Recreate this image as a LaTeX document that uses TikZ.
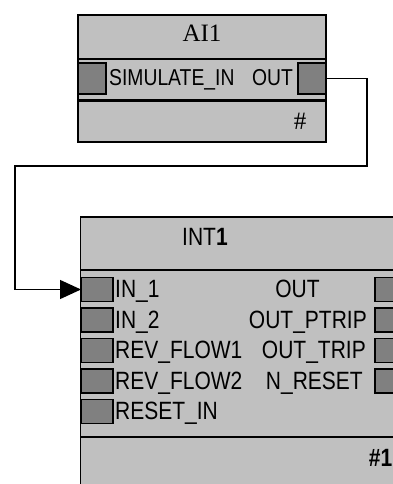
\documentclass[tikz,border=0pt]{standalone}
\usepackage{fontspec}
\setmainfont{Liberation Serif}
\newfontfamily\nsans[FakeStretch=0.84]{Liberation Sans}
\usetikzlibrary{arrows.meta}
\definecolor{boxgray}{RGB}{192,192,192}
\definecolor{portgray}{RGB}{128,128,128}
\begin{document}
\begin{tikzpicture}[x=1pt,y=-1pt,
  blk/.style={draw=black, fill=boxgray, line width=1.6pt, inner sep=0pt, outer sep=0pt, rectangle},
  sepline/.style={draw=black, line width=1.6pt},
  port/.style={draw=black, fill=portgray, line width=1.5pt, inner sep=0pt, outer sep=0pt, rectangle},
  aiport/.style={port, minimum width=28pt, minimum height=31pt},
  intport/.style={port, minimum width=32pt, minimum height=24pt},
  lbl/.style={inner sep=0pt, font=\nsans\fontsize{25}{25}\selectfont},
  albl/.style={inner sep=0pt, font=\nsans\fontsize{23}{23}\selectfont},
  ttl/.style={inner sep=0pt, font=\fontsize{25}{25}\selectfont},
  wire/.style={draw=black, line width=1.4pt}
]
\useasboundingbox (0,0) rectangle (393,484);
\clip (0,0) rectangle (393,484);

% ---------- AI1 block ----------
\node[blk, minimum width=248pt, minimum height=127pt] (ai1) at (202,78.5) {};
\draw[sepline] (78,59) -- (326,59);
\draw[sepline, line width=2.3pt] (78,100.5) -- (326,100.5);
\node[ttl, anchor=base] (ai1title) at (202,42) {AI1};
\node[aiport] (ain) at (92,78.5) {};
\node[aiport] (aout) at (312,78.5) {};
\node[albl, anchor=base west] (ainlbl) at (109,86) {SIMULATE\_IN};
\node[albl, anchor=base east] (aoutlbl) at (293,86) {OUT};
\node[ttl, anchor=base] (ai1hash) at (300,129) {\#};

% ---------- INT1 block ----------
\node[blk, minimum width=330pt, minimum height=283pt] (int1) at (245.5,358.5) {};
\draw[sepline] (80.5,270) -- (410,270);
\draw[sepline, line width=2pt] (80.5,437) -- (410,437);
\node[lbl, anchor=base west] (int1title) at (182,245) {INT\textbf{1}};

\node[intport] (in1) at (97,289.5) {};
\node[intport] (in2) at (97,320) {};
\node[intport] (rf1) at (97,350.5) {};
\node[intport] (rf2) at (97,381) {};
\node[intport] (rst) at (97,411.5) {};

\node[intport] (o1) at (391,289.5) {};
\node[intport] (o2) at (391,320) {};
\node[intport] (o3) at (391,350.5) {};
\node[intport] (o4) at (391,381) {};

\node[lbl, anchor=base west] (in1lbl) at (115,297.5) {IN\_1};
\node[lbl, anchor=base west] (in2lbl) at (115,328) {IN\_2};
\node[lbl, anchor=base west] (rf1lbl) at (115,358.5) {REV\_FLOW1};
\node[lbl, anchor=base west] (rf2lbl) at (115,389) {REV\_FLOW2};
\node[lbl, anchor=base west] (rstlbl) at (115,419.5) {RESET\_IN};

\node[lbl, anchor=base] (o1lbl) at (297.5,297.5) {OUT};
\node[lbl, anchor=base east] (o2lbl) at (367,328) {OUT\_PTRIP};
\node[lbl, anchor=base east] (o3lbl) at (366,358.5) {OUT\_TRIP};
\node[lbl, anchor=base east] (o4lbl) at (363,389) {N\_RESET};

\node[lbl, anchor=base east] (int1hash) at (392.5,466) {\textbf{\#1}};

% ---------- connector ----------
\coordinate (c1) at (367,166);
\coordinate (c2) at (15,166);
\draw[wire, -{Triangle[length=21pt,width=19pt]}] (aout.east) -| (c1) -- (c2) |- (in1.west);
\end{tikzpicture}
\end{document}
